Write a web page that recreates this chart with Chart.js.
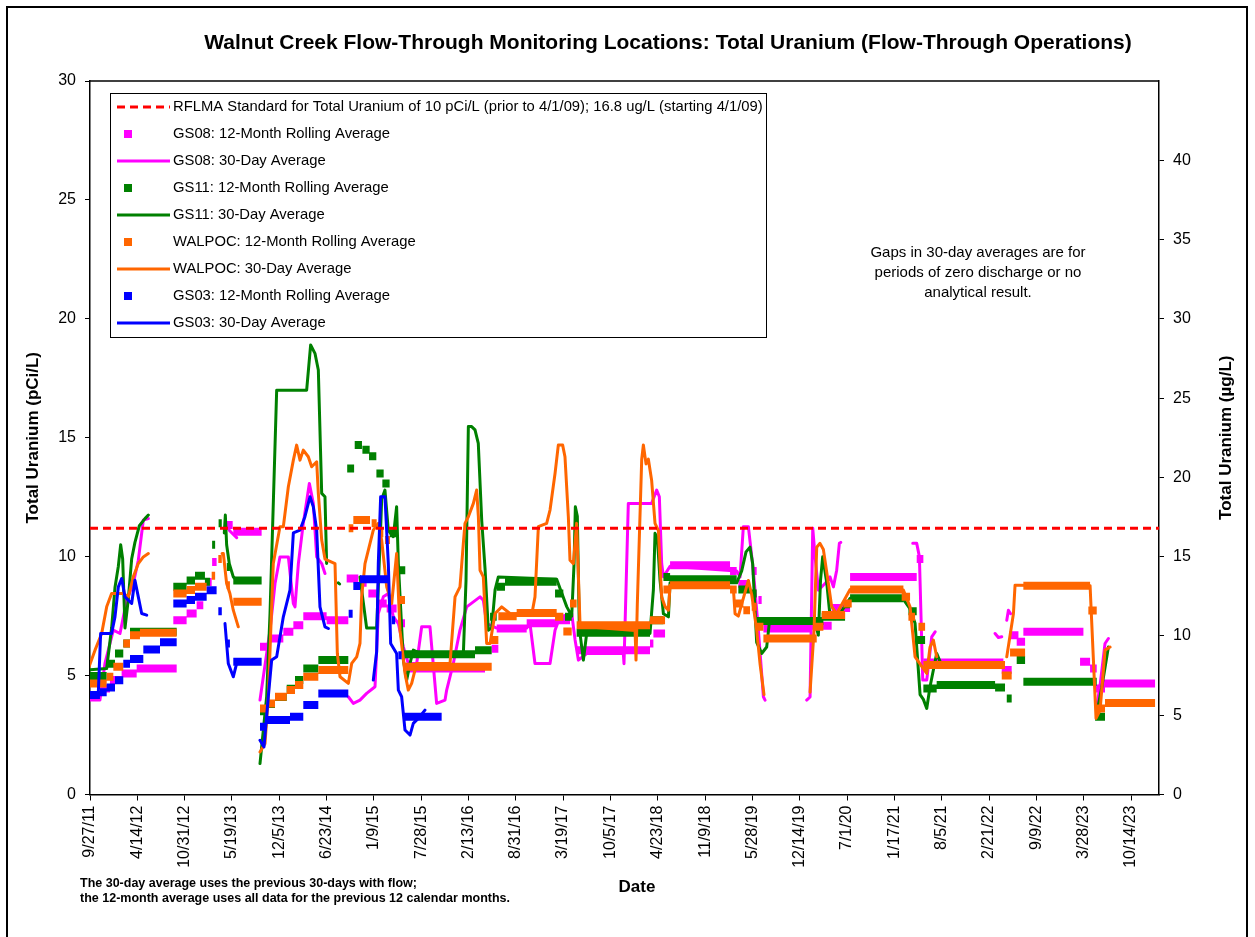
<!DOCTYPE html>
<html>
<head>
<meta charset="utf-8">
<script src="https://cdn.jsdelivr.net/npm/chart.js@4.4.1/dist/chart.umd.min.js"></script>
<style>
  body { margin: 0; background: #fff; }
  #wrap { width: 1255px; height: 937px; }
</style>
</head>
<body>
<div id="wrap"><canvas id="chart" width="1255" height="937"></canvas></div>
<script>
// x values are fractional years (2012.5 = start of July 2012)
const tickLabels = ['9/27/11', '4/14/12', '10/31/12', '5/19/13', '12/5/13', '6/23/14', '1/9/15', '7/28/15',
  '2/13/16', '8/31/16', '3/19/17', '10/5/17', '4/23/18', '11/9/18', '5/28/19', '12/14/19', '7/1/20',
  '1/17/21', '8/5/21', '2/21/22', '9/9/22', '3/28/23', '10/14/23'];

const rflmaStandard = 11.2; // pCi/L  (16.8 ug/L on the right axis)

// 12-month rolling averages: [from, to, value]
const gs08Roll = [
  [2011.698, 2011.852, 4.18], [2011.852, 2011.968, 4.46], [2011.968, 2012.103, 4.81], [2012.103, 2012.277, 5.09],
  [2012.277, 2012.740, 5.30], [2012.701, 2012.855, 7.33], [2012.855, 2012.971, 7.61], [2012.971, 2013.048, 7.96],
  [2013.067, 2013.145, 8.94], [2013.150, 2013.202, 9.78], [2013.318, 2013.388, 11.33], [2013.395, 2013.723, 11.05],
  [2013.704, 2013.800, 6.21], [2013.800, 2013.974, 6.56], [2013.974, 2014.090, 6.84], [2014.090, 2014.205, 7.12],
  [2014.205, 2014.475, 7.50], [2014.475, 2014.726, 7.33], [2014.707, 2014.842, 9.08], [2014.861, 2014.938, 8.90],
  [2014.958, 2015.054, 8.45], [2015.054, 2015.170, 8.03], [2015.170, 2015.285, 7.82], [2015.305, 2015.382, 7.20],
  [2015.401, 2016.308, 5.30], [2016.385, 2016.462, 6.13], [2016.443, 2016.790, 6.98], [2016.790, 2017.137, 7.20],
  [2017.137, 2017.291, 7.33], [2017.368, 2018.217, 6.07], [2018.217, 2018.256, 6.35], [2018.256, 2018.391, 6.77],
  [2018.391, 2018.449, 9.14], [2018.449, 2019.143, 9.64], [2019.143, 2019.220, 9.40], [2019.239, 2019.374, 8.85],
  [2019.394, 2019.451, 9.40], [2019.471, 2019.509, 8.18], [2019.529, 2020.069, 6.98], [2020.069, 2020.319, 7.10],
  [2020.319, 2020.532, 7.84], [2020.532, 2021.303, 9.14], [2021.303, 2021.380, 9.90], [2021.380, 2022.306, 5.55],
  [2022.287, 2022.402, 5.23], [2022.375, 2022.480, 6.70], [2022.460, 2022.557, 6.42], [2022.537, 2023.232, 6.84],
  [2023.193, 2023.309, 5.58], [2023.309, 2023.386, 5.30], [2023.367, 2023.482, 4.46], [2023.463, 2024.061, 4.67]
];
const gs11Roll = [
  [2011.698, 2011.930, 4.98], [2011.930, 2012.026, 5.50], [2012.026, 2012.122, 5.93], [2012.122, 2012.200, 6.35],
  [2012.200, 2012.740, 6.84], [2012.701, 2012.855, 8.73], [2012.855, 2012.952, 9.00], [2012.952, 2013.067, 9.20],
  [2013.067, 2013.125, 8.95], [2013.150, 2013.185, 10.50], [2013.225, 2013.262, 11.40], [2013.320, 2013.356, 9.57],
  [2013.395, 2013.723, 9.00], [2013.704, 2013.781, 3.50], [2013.781, 2013.878, 3.80], [2013.878, 2014.013, 4.10],
  [2014.013, 2014.109, 4.45], [2014.109, 2014.205, 4.81], [2014.205, 2014.379, 5.30], [2014.379, 2014.726, 5.65],
  [2014.713, 2014.793, 13.71], [2014.800, 2014.884, 14.69], [2014.889, 2014.973, 14.50], [2014.966, 2015.050, 14.22],
  [2015.051, 2015.135, 13.50], [2015.120, 2015.204, 13.08], [2015.205, 2015.289, 10.98], [2015.301, 2015.385, 9.43],
  [2015.363, 2016.192, 5.90], [2016.192, 2016.385, 6.07], [2016.366, 2016.443, 7.47], [2016.443, 2016.539, 8.73],
  [2016.539, 2017.137, 8.95], [2017.118, 2017.214, 8.45], [2017.233, 2017.311, 7.47], [2017.368, 2018.217, 6.80],
  [2018.217, 2018.372, 7.33], [2018.372, 2018.449, 9.14], [2018.449, 2019.220, 9.05], [2019.239, 2019.374, 8.62],
  [2019.394, 2019.451, 8.45], [2019.451, 2020.223, 7.30], [2020.204, 2020.474, 7.47], [2020.474, 2020.532, 8.00],
  [2020.532, 2021.149, 8.25], [2021.207, 2021.303, 7.70], [2021.284, 2021.400, 6.50], [2021.380, 2021.534, 4.46],
  [2021.534, 2022.210, 4.60], [2022.210, 2022.325, 4.50], [2022.345, 2022.402, 4.04], [2022.460, 2022.557, 5.65],
  [2022.537, 2023.386, 4.74], [2023.367, 2023.482, 3.27]
];
const walpocRoll = [
  [2011.698, 2011.930, 4.67], [2011.930, 2012.007, 4.95], [2012.007, 2012.122, 5.37], [2012.122, 2012.200, 6.35],
  [2012.200, 2012.315, 6.70], [2012.315, 2012.740, 6.80], [2012.701, 2012.855, 8.45], [2012.855, 2012.952, 8.60],
  [2012.952, 2013.087, 8.73], [2013.145, 2013.185, 9.20], [2013.222, 2013.262, 9.90], [2013.318, 2013.356, 8.80],
  [2013.395, 2013.723, 8.10], [2013.704, 2013.781, 3.62], [2013.781, 2013.878, 3.83], [2013.878, 2014.013, 4.11],
  [2014.013, 2014.109, 4.39], [2014.109, 2014.205, 4.60], [2014.205, 2014.379, 4.95], [2014.379, 2014.726, 5.23],
  [2014.730, 2014.784, 11.20], [2014.784, 2014.977, 11.54], [2014.996, 2015.054, 11.40], [2015.073, 2015.131, 10.98],
  [2015.150, 2015.208, 10.70], [2015.324, 2015.382, 8.18], [2015.363, 2016.385, 5.37], [2016.366, 2016.462, 6.50],
  [2016.462, 2016.674, 7.50], [2016.674, 2017.137, 7.63], [2017.118, 2017.214, 7.47], [2017.214, 2017.311, 6.85],
  [2017.291, 2017.368, 8.03], [2017.368, 2018.217, 7.12], [2018.217, 2018.391, 7.33], [2018.372, 2018.449, 8.62],
  [2018.449, 2019.143, 8.80], [2019.143, 2019.220, 8.62], [2019.201, 2019.297, 8.03], [2019.297, 2019.374, 7.75],
  [2019.394, 2019.451, 7.89], [2019.451, 2019.529, 7.05], [2019.529, 2020.146, 6.56], [2020.107, 2020.223, 7.05],
  [2020.204, 2020.474, 7.55], [2020.454, 2020.551, 8.03], [2020.532, 2021.149, 8.62], [2021.129, 2021.226, 8.31],
  [2021.207, 2021.284, 7.47], [2021.323, 2021.400, 7.05], [2021.380, 2022.325, 5.45], [2022.287, 2022.402, 5.00],
  [2022.383, 2022.557, 5.97], [2022.537, 2023.309, 8.78], [2023.289, 2023.386, 7.74], [2023.367, 2023.482, 3.62],
  [2023.482, 2024.061, 3.85]
];
const gs03Roll = [
  [2011.698, 2011.852, 4.18], [2011.852, 2011.930, 4.30], [2011.930, 2012.026, 4.50], [2012.026, 2012.122, 4.80],
  [2012.122, 2012.200, 5.50], [2012.200, 2012.354, 5.70], [2012.354, 2012.547, 6.10], [2012.547, 2012.740, 6.40],
  [2012.701, 2012.855, 8.03], [2012.855, 2012.952, 8.18], [2012.952, 2013.087, 8.31], [2013.087, 2013.202, 8.59],
  [2013.222, 2013.262, 7.70], [2013.318, 2013.356, 6.35], [2013.395, 2013.723, 5.58], [2013.704, 2013.781, 2.85],
  [2013.781, 2014.051, 3.13], [2014.051, 2014.205, 3.27], [2014.205, 2014.379, 3.76], [2014.379, 2014.726, 4.25],
  [2014.730, 2014.776, 7.60], [2014.784, 2014.861, 8.77], [2014.861, 2015.208, 9.05], [2015.228, 2015.268, 7.33],
  [2015.305, 2015.343, 5.86], [2015.363, 2015.806, 3.27]
];

// 30-day averages: [date, value], null = gap
const gs08Avg30 = [
  [2011.698, 3.97], [2011.852, 3.97], [2011.910, 5.51], [2012.007, 6.91], [2012.084, 6.77], [2012.161, 8.17],
  [2012.238, 8.87], [2012.296, 9.85], [2012.354, 11.54], [2012.412, 11.60], null,
  [2013.318, 11.40], [2013.350, 11.10], [2013.434, 10.80], null,
  [2013.704, 3.97], [2013.820, 6.91], [2013.878, 8.87], [2013.935, 9.99], [2014.032, 9.99], [2014.090, 8.03],
  [2014.109, 7.89], [2014.148, 9.71], [2014.205, 11.40], [2014.275, 13.08], [2014.321, 12.24], [2014.360, 9.99],
  [2014.418, 9.71], [2014.456, 9.29], null,
  [2014.726, 4.11], [2014.784, 3.83], [2014.861, 3.97], [2014.938, 4.25], [2015.035, 4.53], [2015.073, 7.61],
  [2015.131, 8.31], [2015.189, 8.45], [2015.247, 7.47], [2015.305, 7.19], [2015.363, 6.21], [2015.420, 5.51],
  [2015.517, 5.51], [2015.575, 7.05], [2015.671, 7.05], [2015.748, 3.83], [2015.845, 3.97], [2015.864, 4.39],
  [2015.941, 5.51], [2016.018, 6.91], [2016.096, 7.89], [2016.250, 8.31], [2016.288, 8.17], [2016.327, 7.19],
  [2016.443, 7.00], [2016.790, 7.00], [2016.828, 7.19], [2016.886, 5.51], [2017.060, 5.51], [2017.118, 6.91],
  [2017.176, 7.47], [2017.311, 7.61], [2017.350, 6.50], [2017.388, 5.65], [2017.484, 5.93], [2017.908, 5.93],
  [2017.916, 5.50], [2017.966, 12.24], [2018.236, 12.24], [2018.294, 12.80], [2018.325, 12.52], [2018.352, 9.71],
  [2018.372, 9.15], [2018.449, 9.60], [2019.220, 9.40], [2019.259, 9.15], [2019.297, 11.26], [2019.355, 11.26],
  [2019.413, 9.40], [2019.471, 6.91], [2019.529, 4.11], [2019.548, 3.97], null,
  [2020.030, 3.97], [2020.069, 4.10], [2020.100, 11.20], [2020.127, 10.00], [2020.165, 8.59], [2020.242, 8.87],
  [2020.300, 9.15], [2020.339, 8.73], [2020.377, 9.43], [2020.408, 10.56], [2020.424, 10.60], null,
  [2021.257, 10.56], [2021.303, 10.56], [2021.334, 10.00], [2021.373, 4.81], [2021.419, 4.81], [2021.477, 6.63],
  [2021.516, 6.84], null,
  [2022.210, 6.77], [2022.248, 6.60], [2022.287, 6.63], null,
  [2022.345, 7.33], [2022.364, 7.75], [2022.390, 7.60], null,
  [2023.386, 3.69], [2023.425, 4.60], [2023.482, 6.35], [2023.521, 6.56]
];
const gs11Avg30 = [
  [2011.698, 5.23], [2011.930, 5.30], [2011.987, 7.00], [2012.026, 8.70], [2012.065, 9.60], [2012.092, 10.50],
  [2012.115, 9.90], [2012.142, 7.00], [2012.180, 8.20], [2012.219, 9.90], [2012.257, 10.60], [2012.308, 11.30],
  [2012.373, 11.60], [2012.412, 11.75], null,
  [2013.291, 11.00], [2013.303, 11.75], [2013.318, 10.50], [2013.349, 9.70], [2013.395, 9.15], [2013.434, 9.00], null,
  [2013.704, 1.30], [2013.781, 4.11], [2013.820, 7.61], [2013.897, 17.00], [2014.244, 17.00], [2014.290, 18.90],
  [2014.340, 18.55], [2014.379, 17.85], [2014.418, 12.66], [2014.456, 12.52], [2014.475, 9.71], null,
  [2014.610, 8.90], [2014.625, 8.85], null,
  [2014.861, 9.15], [2014.938, 7.00], [2015.054, 7.00], [2015.093, 10.56], [2015.112, 12.40], [2015.150, 12.80],
  [2015.189, 11.10], [2015.247, 10.84], [2015.285, 12.10], [2015.305, 9.71], [2015.363, 5.65], [2015.401, 4.81],
  [2015.440, 5.51], [2015.478, 6.07], [2015.555, 5.93], [2016.057, 5.90], [2016.088, 9.00], [2016.115, 15.47],
  [2016.153, 15.47], [2016.192, 15.33], [2016.230, 14.76], [2016.270, 11.50], [2016.308, 9.50], [2016.346, 6.91],
  [2016.385, 7.00], [2016.424, 8.60], [2016.462, 9.15], [2017.137, 9.05], [2017.253, 7.90], [2017.311, 7.50],
  [2017.338, 9.70], [2017.353, 12.10], [2017.376, 11.70], [2017.399, 7.00], [2017.446, 5.65], [2017.484, 6.77],
  [2018.217, 6.77], [2018.256, 8.60], [2018.275, 10.98], [2018.302, 10.80], [2018.333, 9.00], [2018.372, 7.60],
  [2018.430, 7.47], [2018.449, 8.90], [2019.220, 8.90], [2019.278, 9.40], [2019.328, 10.20], [2019.374, 10.40],
  [2019.405, 9.70], [2019.451, 6.40], [2019.509, 5.93], [2019.567, 6.20], [2019.600, 7.30], [2020.130, 7.20],
  [2020.165, 6.70], [2020.190, 9.00], [2020.215, 10.00], [2020.262, 8.90], [2020.300, 7.50], [2020.377, 7.40],
  [2020.532, 8.25], [2021.149, 8.20], [2021.226, 7.80], [2021.284, 7.20], [2021.342, 4.20], [2021.380, 4.00],
  [2021.419, 3.62], [2021.457, 4.53], [2021.534, 5.93], [2021.573, 5.60], null,
  [2023.386, 3.40], [2023.444, 4.50], [2023.521, 6.20]
];
const walpocAvg30 = [
  [2011.698, 5.09], [2011.795, 6.07], [2011.872, 6.77], [2011.930, 7.89], [2011.987, 8.45], [2012.122, 8.45],
  [2012.180, 8.31], [2012.238, 9.15], [2012.296, 9.71], [2012.354, 9.99], [2012.412, 10.13], null,
  [2013.265, 10.13], [2013.280, 10.13], [2013.318, 8.87], [2013.356, 8.45], [2013.395, 7.75], [2013.453, 7.05], null,
  [2013.704, 1.79], [2013.762, 2.14], [2013.800, 4.11], [2013.858, 9.71], [2013.935, 11.26], [2013.974, 11.26],
  [2014.032, 12.94], [2014.090, 14.06], [2014.128, 14.69], [2014.167, 14.06], [2014.205, 14.48], [2014.263, 14.20],
  [2014.302, 13.78], [2014.360, 13.99], [2014.379, 12.66], [2014.418, 10.70], [2014.456, 9.90], [2014.572, 9.71],
  [2014.599, 5.93], [2014.630, 4.95], [2014.726, 4.67], [2014.765, 5.51], [2014.823, 5.79], [2014.861, 6.35],
  [2014.880, 8.31], [2014.919, 9.71], [2015.015, 11.12], [2015.073, 11.40], [2015.112, 10.70], [2015.170, 8.73],
  [2015.228, 8.03], [2015.285, 10.13], [2015.324, 6.91], [2015.382, 5.09], [2015.420, 4.39], [2015.459, 4.67],
  [2015.517, 5.51], [2015.903, 5.51], [2015.961, 8.31], [2016.018, 8.73], [2016.057, 10.56], [2016.076, 11.40],
  [2016.115, 11.68], [2016.173, 12.24], [2016.211, 12.80], [2016.231, 11.68], [2016.250, 9.43], [2016.288, 9.15],
  [2016.327, 6.35], [2016.366, 6.35], [2016.424, 7.61], [2016.501, 7.89], [2016.600, 7.60], [2016.850, 7.60],
  [2016.886, 8.31], [2016.925, 11.26], [2017.021, 11.40], [2017.060, 11.96], [2017.118, 13.50], [2017.156, 14.69],
  [2017.206, 14.69], [2017.233, 14.20], [2017.272, 11.68], [2017.291, 9.85], [2017.330, 9.71], [2017.368, 11.40],
  [2017.407, 7.19], [2017.484, 7.05], [2018.044, 6.90], [2018.055, 5.65], [2018.070, 8.00], [2018.121, 14.10],
  [2018.140, 14.70], [2018.171, 13.90], [2018.198, 14.10], [2018.236, 13.20], [2018.275, 11.40], [2018.314, 11.10],
  [2018.352, 8.30], [2018.391, 7.90], [2018.430, 7.75], [2018.449, 8.80], [2019.181, 8.70], [2019.201, 7.60],
  [2019.239, 7.50], [2019.355, 9.00], [2019.394, 8.40], [2019.451, 6.91], [2019.490, 5.50], [2019.536, 4.20], null,
  [2020.069, 4.30], [2020.115, 6.90], [2020.146, 10.40], [2020.184, 10.56], [2020.223, 10.30], [2020.281, 8.87],
  [2020.319, 7.90], [2020.377, 7.60], [2020.532, 8.62], [2021.149, 8.60], [2021.226, 7.89], [2021.284, 5.79],
  [2021.419, 5.09], [2021.457, 6.20], [2021.496, 6.49], [2021.534, 5.79], null,
  [2022.345, 5.79], [2022.422, 7.60], [2022.441, 8.80], [2022.460, 8.80], [2023.309, 8.78], [2023.378, 3.20],
  [2023.425, 3.55], [2023.482, 6.07], [2023.540, 6.20]
];
const gs03Avg30 = [
  [2011.698, 4.25], [2011.833, 4.25], [2011.860, 6.77], [2011.987, 6.77], [2012.026, 7.47], [2012.065, 8.73],
  [2012.103, 9.08], [2012.142, 8.31], [2012.219, 8.03], [2012.257, 9.01], [2012.296, 8.31], [2012.335, 7.61],
  [2012.393, 7.54], null,
  [2013.299, 7.19], [2013.337, 5.51], [2013.395, 4.95], [2013.434, 5.51], null,
  [2013.704, 2.28], [2013.750, 2.00], [2013.800, 4.11], [2013.839, 5.65], [2013.897, 5.79], [2013.974, 7.47],
  [2014.051, 8.59], [2014.090, 11.00], [2014.167, 11.12], [2014.224, 11.68], [2014.283, 12.52], [2014.321, 12.10],
  [2014.360, 11.12], [2014.398, 7.89], [2014.456, 7.05], [2014.495, 6.98], null,
  [2015.015, 4.81], [2015.054, 6.00], [2015.073, 9.71], [2015.100, 12.52], [2015.150, 12.52], [2015.189, 9.71],
  [2015.216, 6.35], [2015.285, 5.93], [2015.305, 4.39], [2015.343, 4.11], [2015.382, 2.71], [2015.440, 2.50],
  [2015.478, 2.99], [2015.536, 3.20], [2015.613, 3.55]
];

const FONT = '"Liberation Sans", Arial, sans-serif';
Chart.defaults.font.family = FONT;
Chart.defaults.color = '#000';

function toYear(s) {
  const [m, d, yy] = s.split('/').map(Number);
  const y = 2000 + yy;
  const start = Date.UTC(y, 0, 1);
  return y + (Date.UTC(y, m - 1, d) - start) / (Date.UTC(y + 1, 0, 1) - start);
}
const xMin = toYear('9/27/11');
const xMax = toYear('2/9/24');

function rollPoints(segs) {
  const pts = [];
  segs.forEach(([s, e, v]) => { pts.push({x: s, y: v}, {x: e, y: v}, {x: e, y: null}); });
  return pts;
}
function linePoints(arr) {
  return arr.map((p, i) => p ? {x: p[0], y: p[1]} : {x: arr[i - 1][0], y: null});
}

const MAGENTA = '#ff00ff', GREEN = '#008000', ORANGE = '#ff6600', BLUE = '#0000ff', RED = '#ff0000';

function rollSet(label, color, segs, order) {
  return { label, kind: 'square', data: rollPoints(segs), borderColor: color, backgroundColor: color,
    borderWidth: 8, borderCapStyle: 'butt', pointRadius: 0, order };
}
function lineSet(label, color, arr, order) {
  return { label, kind: 'line', data: linePoints(arr), borderColor: color, backgroundColor: color,
    borderWidth: 3, borderCapStyle: 'round', borderJoinStyle: 'round', pointRadius: 0, order };
}

const datasets = [
  { label: 'RFLMA Standard for Total Uranium of 10 pCi/L (prior to 4/1/09); 16.8 ug/L (starting 4/1/09)',
    kind: 'dash', data: [{x: xMin, y: rflmaStandard}, {x: xMax, y: rflmaStandard}],
    borderColor: RED, borderWidth: 3, borderDash: [8, 5], pointRadius: 0, order: 0 },
  rollSet('GS08: 12-Month Rolling Average', MAGENTA, gs08Roll, 8),
  lineSet('GS08: 30-Day Average', MAGENTA, gs08Avg30, 7),
  rollSet('GS11: 12-Month Rolling Average', GREEN, gs11Roll, 6),
  lineSet('GS11: 30-Day Average', GREEN, gs11Avg30, 5),
  rollSet('WALPOC: 12-Month Rolling Average', ORANGE, walpocRoll, 4),
  lineSet('WALPOC: 30-Day Average', ORANGE, walpocAvg30, 3),
  rollSet('GS03: 12-Month Rolling Average', BLUE, gs03Roll, 2),
  lineSet('GS03: 30-Day Average', BLUE, gs03Avg30, 1)
];

// legend box, title, notes and frame drawn on top of the chart
const decorations = {
  id: 'decorations',
  afterDraw(chart) {
    const ctx = chart.ctx;
    const area = chart.chartArea;
    ctx.save();
    // outer frame
    ctx.strokeStyle = '#000';
    ctx.lineWidth = 2;
    ctx.strokeRect(7, 7, 1240, 940);
    // top edge of plot area
    ctx.lineWidth = 1.5;
    ctx.beginPath();
    ctx.moveTo(area.left, area.top);
    ctx.lineTo(area.right, area.top);
    ctx.stroke();

    // legend
    const lx = 110, ly = 93, lw = 656, lh = 244, row = 27;
    ctx.fillStyle = '#fff';
    ctx.fillRect(lx, ly, lw, lh);
    ctx.lineWidth = 1;
    ctx.strokeStyle = '#000';
    ctx.strokeRect(lx + 0.5, ly + 0.5, lw, lh);
    ctx.font = '14.8px ' + FONT;
    ctx.textBaseline = 'middle';
    ctx.textAlign = 'left';
    chart.data.datasets.forEach((ds, i) => {
      const y = ly + 14 + i * row;
      ctx.strokeStyle = ds.borderColor;
      ctx.fillStyle = ds.borderColor;
      if (ds.kind === 'square') {
        ctx.fillRect(124, y - 4, 8, 8);
      } else {
        ctx.lineWidth = 3;
        ctx.setLineDash(ds.kind === 'dash' ? [8, 5] : []);
        ctx.beginPath();
        ctx.moveTo(117, y);
        ctx.lineTo(170, y);
        ctx.stroke();
        ctx.setLineDash([]);
      }
      ctx.fillStyle = '#000';
      ctx.fillText(ds.label, 173, y);
    });

    // title
    ctx.fillStyle = '#000';
    ctx.textAlign = 'center';
    ctx.font = 'bold 21px ' + FONT;
    ctx.fillText('Walnut Creek Flow-Through Monitoring Locations: Total Uranium (Flow-Through Operations)', 668, 43);

    // note on gaps
    ctx.font = '15px ' + FONT;
    ['Gaps in 30-day averages are for', 'periods of zero discharge or no', 'analytical result.']
      .forEach((t, i) => ctx.fillText(t, 978, 253 + i * 20));

    // x axis title
    ctx.font = 'bold 17px ' + FONT;
    ctx.fillText('Date', 637, 887);

    // right axis title, reading upwards
    ctx.save();
    ctx.translate(1226, (area.top + area.bottom) / 2);
    ctx.rotate(-Math.PI / 2);
    ctx.fillText('Total Uranium (\u00b5g/L)', 0, 0);
    ctx.restore();

    // footnote
    ctx.textAlign = 'left';
    ctx.font = 'bold 12.5px ' + FONT;
    ctx.fillText('The 30-day average uses the previous 30-days with flow;', 80, 884);
    ctx.fillText('the 12-month average uses all data for the previous 12 calendar months.', 80, 899);
    ctx.restore();
  }
};

const axisGrid = { drawOnChartArea: false, drawTicks: true, tickLength: 5, color: '#000', lineWidth: 1 };
const axisBorder = { color: '#000', width: 1.5 };

new Chart(document.getElementById('chart'), {
  type: 'line',
  data: { datasets },
  options: {
    responsive: false,
    animation: false,
    events: [],
    layout: { padding: { top: 81, left: 0, right: 0, bottom: 0 } },
    plugins: { legend: { display: false }, tooltip: { enabled: false }, title: { display: false } },
    scales: {
      x: {
        type: 'linear', min: xMin, max: xMax,
        afterBuildTicks: s => { s.ticks = tickLabels.map(t => ({ value: toYear(t) })); },
        afterFit: s => { s.height = 142.5; },
        ticks: { callback: (v, i) => tickLabels[i], font: { size: 16 }, minRotation: 90, maxRotation: 90,
          autoSkip: false, padding: 5 },
        grid: { ...axisGrid, tickLength: 6 },
        border: axisBorder
      },
      y: {
        position: 'left', min: 0, max: 30,
        afterFit: s => { s.width = 90; },
        ticks: { stepSize: 5, font: { size: 16 }, padding: 9 },
        grid: axisGrid,
        border: axisBorder,
        title: { display: true, text: 'Total Uranium (pCi/L)', font: { size: 17, weight: 'bold' }, padding: { top: 23 } }
      },
      y2: {
        position: 'right', min: 0, max: 45,
        afterFit: s => { s.width = 96; },
        ticks: { stepSize: 5, font: { size: 16 }, padding: 9, callback: v => (v === 45 ? '' : v) },
        grid: { ...axisGrid, color: c => (c.tick && c.tick.value === 45 ? 'rgba(0,0,0,0)' : '#000') },
        border: axisBorder
      }
    }
  },
  plugins: [decorations]
});
</script>
</body>
</html>
